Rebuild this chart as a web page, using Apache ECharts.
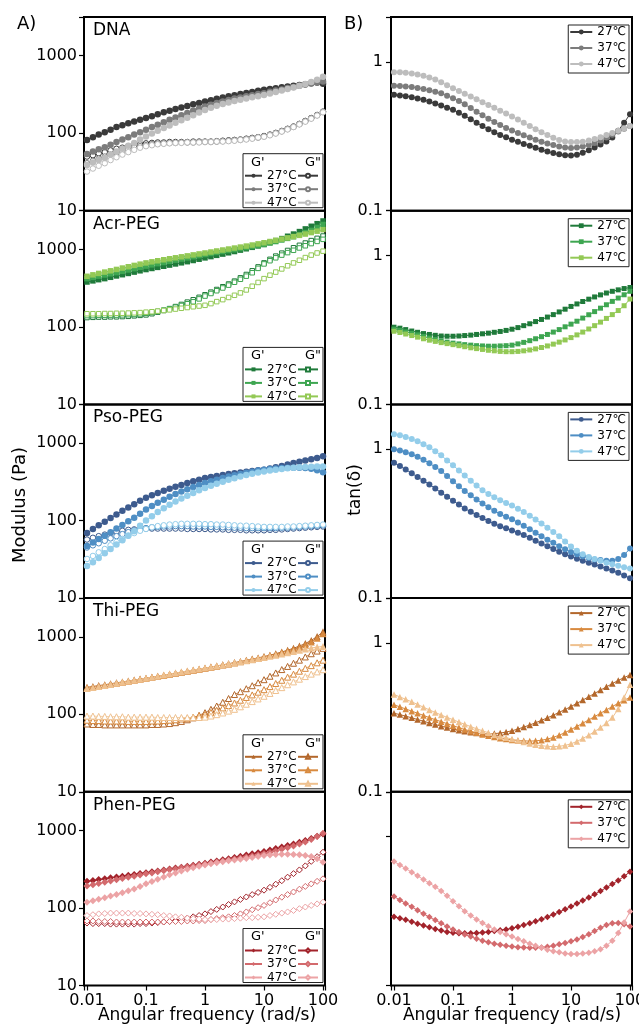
<!DOCTYPE html>
<html><head><meta charset="utf-8">
<script src="https://cdn.jsdelivr.net/npm/echarts@6/dist/echarts.min.js"></script>
<style>html,body{margin:0;padding:0;background:#fff}#c{width:639px;height:1030px}</style>
</head><body><div id="c"></div>
<script>
// ---------- data ----------
const freq = [0.01,0.0126,0.0158,0.02,0.0251,0.0316,0.0398,0.0501,0.0631,0.0794,
  0.1,0.126,0.158,0.2,0.251,0.316,0.398,0.501,0.631,0.794,
  1,1.26,1.58,2,2.51,3.16,3.98,5.01,6.31,7.94,
  10,12.6,15.8,20,25.1,31.6,39.8,50.1,63.1,79.4,100];
const panelNames = ['DNA','Acr-PEG','Pso-PEG','Thi-PEG','Phen-PEG'];
const tempsA = ['27°C','37°C','47°C'];
const tempsB = ['27℃','37℃','47℃'];
const xTickLabels = {'-2':'0.01','-1':'0.1','0':'1','1':'10','2':'100'};
const yTickLabelsA = {'1':'10','2':'100','3':'1000'};
const yTickLabelsB = {'-1':'0.1','0':'1'};

const dnaGp27 = [82,89,96,103,111,120,127,134,142,149,157,166,176,186,195,205,215,225,236,246,256,267,278,288,299,310,320,331,341,352,363,372,381,391,400,410,420,430,440,452,435];
const dnaGp37 = [54,58,62,66,71,77,83,89,96,103,111,120,129,139,149,160,171,183,196,208,221,233,245,257,269,280,290,300,310,320,329,342,355,368,382,396,410,424,438,451,464];
const dnaGp47 = [39,42,45,48,53,58,63,69,75,83,91,99,108,117,126,136,147,158,170,185,200,213,226,238,249,260,270,280,291,301,312,325,340,355,372,390,410,432,458,490,537];
const dnaGpp27 = [50,52,55,57,60,63,65,68,70,72,74,75,76,76,77,77,77,77,78,78,78,78,79,80,81,82,83,85,87,89,92,96,101,107,114,122,132,144,157,172,190];
const dnaGpp37 = [41,44,47,50,53,56,59,62,65,68,70,72,73,74,75,75,76,76,76,77,77,77,78,79,80,81,82,84,86,88,91,95,100,106,113,121,131,143,156,171,188];
const dnaGpp47 = [32,35,38,41,45,49,53,57,61,65,68,70,72,73,74,75,75,76,76,76,77,77,78,78,79,80,82,83,85,88,90,94,99,105,112,120,130,141,154,169,186];

const acrGp27 = [380,393,407,420,437,455,472,490,510,530,550,568,587,607,628,650,672,695,720,748,778,808,839,871,905,940,980,1020,1065,1110,1160,1230,1300,1380,1480,1580,1700,1840,1990,2150,2330];
const acrGp37 = [420,436,452,468,485,502,522,543,565,588,610,632,655,678,702,727,752,778,805,832,860,887,913,940,968,995,1025,1055,1090,1125,1160,1210,1265,1325,1390,1460,1550,1650,1760,1920,2100];
const acrGp47 = [450,470,490,510,530,552,575,598,622,646,670,692,714,736,758,780,803,826,850,875,900,927,955,983,1012,1042,1073,1105,1140,1180,1220,1265,1310,1360,1410,1465,1520,1580,1650,1720,1800];
const acrGpp27 = [132,133,134,134,135,135,136,137,139,141,143,148,155,163,172,183,195,209,224,241,260,281,304,330,358,390,430,475,530,595,670,745,820,895,970,1050,1130,1210,1300,1390,1490];
const acrGpp37 = [140,140,141,141,142,142,143,144,145,147,150,154,159,165,172,180,189,199,211,230,250,270,293,318,346,377,412,452,500,570,650,715,780,845,910,975,1045,1115,1190,1270,1350];
const acrGpp47 = [148,148,148,149,149,150,150,151,152,153,155,157,160,163,166,170,174,178,182,186,190,200,212,225,240,256,275,300,335,375,420,465,510,560,615,670,725,785,845,900,950];

const psoGp27 = [69,78,87,97,108,120,134,148,163,180,197,213,228,243,258,273,289,305,322,338,355,366,377,388,399,410,419,428,437,446,455,470,488,508,530,555,575,595,620,645,675];
const psoGp37 = [47,52,58,64,71,79,88,98,109,123,139,154,170,186,203,220,237,254,271,288,306,322,338,354,370,386,400,414,428,442,455,463,470,476,480,482,480,476,466,448,420];
const psoGp47 = [26,29,33,38,43,49,56,64,73,86,100,114,129,144,160,176,193,210,228,246,264,282,300,318,336,353,370,387,403,418,432,444,455,465,474,482,488,493,497,499,500];
const psoGpp27 = [57,60,63,66,69,72,74,76,77,78,79,79,79,79,79,79,79,78,78,78,78,77,77,77,76,76,76,75,75,75,75,76,76,77,78,79,80,81,82,83,84];
const psoGpp37 = [45,48,51,55,59,63,67,71,75,78,80,82,83,84,84,85,85,85,84,84,84,83,83,82,82,81,81,80,80,80,80,80,80,81,81,82,83,84,85,86,87];
const psoGpp47 = [32,35,39,43,48,53,58,64,69,74,78,82,85,87,89,90,91,91,91,91,90,90,89,89,88,87,86,86,85,84,83,83,83,83,84,84,85,86,87,88,89];

const thiGp27 = [223,229,235,241,248,255,262,269,277,285,293,302,311,320,330,340,350,360,371,382,394,407,421,435,450,465,481,498,516,535,556,580,607,638,672,712,760,820,900,1010,1160];
const thiGp37 = [218,224,231,238,245,252,259,267,275,283,291,300,309,318,328,338,348,359,370,381,392,405,418,432,446,461,477,494,512,531,551,573,598,626,657,692,735,790,860,960,1100];
const thiGp47 = [215,222,229,236,243,251,259,267,275,284,293,302,311,321,331,341,351,362,373,384,396,408,421,434,448,462,477,492,508,525,542,560,580,600,622,645,670,695,718,738,750];
const thiGpp27 = [75,74,74,73,73,73,73,73,73,73,73,74,74,75,76,78,81,85,90,97,105,116,128,143,160,180,196,214,234,256,280,310,342,378,415,456,500,550,605,655,710];
const thiGpp37 = [84,83,83,82,82,82,82,81,81,81,81,82,82,83,84,85,87,89,92,96,100,106,113,121,130,140,152,165,178,193,208,228,250,275,302,330,360,392,425,462,500];
const thiGpp47 = [95,95,94,94,93,93,93,92,92,92,92,92,91,91,91,91,91,91,91,91,92,95,99,104,110,116,125,135,146,158,171,186,203,221,241,262,284,307,330,353,376];

const phenGp27 = [221,227,233,239,245,251,257,264,271,278,285,293,301,310,319,328,337,347,357,368,379,392,405,419,434,450,466,482,500,518,536,560,585,612,640,670,705,745,790,845,903];
const phenGp37 = [192,199,207,215,223,232,240,249,258,267,276,284,293,302,311,320,330,339,349,359,370,381,392,404,416,429,442,456,470,485,500,522,546,572,600,632,668,710,765,835,920];
const phenGp47 = [119,124,130,136,143,150,158,167,176,190,205,220,236,252,268,284,300,316,331,346,360,372,384,395,406,416,426,436,450,463,476,484,490,493,494,492,488,478,462,432,390];
const phenGpp27 = [64,63,63,63,62,62,62,62,62,63,63,64,65,66,67,69,71,74,77,80,84,90,96,103,111,120,129,139,149,159,170,185,203,225,250,278,310,350,400,460,525];
const phenGpp37 = [68,68,67,67,67,66,66,66,66,66,66,66,66,66,67,67,67,68,68,69,69,71,73,75,77,80,84,89,95,101,108,117,127,138,149,161,175,190,205,221,238];
const phenGpp47 = [80,82,84,85,86,86,86,86,85,85,84,83,82,80,79,77,76,74,73,72,71,71,71,72,72,73,74,75,75,76,77,80,83,86,89,93,98,103,108,113,119];

const dnaTan27 = [0.60,0.595,0.588,0.579,0.568,0.556,0.541,0.525,0.509,0.492,0.476,0.455,0.434,0.412,0.39,0.37,0.352,0.337,0.323,0.311,0.30,0.29,0.281,0.273,0.265,0.257,0.25,0.244,0.239,0.236,0.235,0.238,0.245,0.255,0.266,0.278,0.292,0.31,0.345,0.39,0.445];
const dnaTan37 = [0.69,0.688,0.684,0.677,0.668,0.657,0.645,0.63,0.614,0.592,0.57,0.545,0.518,0.49,0.462,0.437,0.414,0.394,0.376,0.36,0.346,0.333,0.321,0.31,0.3,0.291,0.283,0.276,0.27,0.266,0.264,0.266,0.27,0.276,0.285,0.296,0.31,0.324,0.34,0.355,0.37];
const dnaTan47 = [0.85,0.85,0.845,0.836,0.823,0.806,0.785,0.76,0.728,0.696,0.665,0.638,0.611,0.585,0.56,0.536,0.513,0.491,0.47,0.45,0.43,0.41,0.39,0.371,0.353,0.337,0.322,0.309,0.299,0.292,0.289,0.289,0.291,0.296,0.303,0.312,0.322,0.333,0.345,0.357,0.37];
const acrTan27 = [0.33,0.325,0.318,0.311,0.305,0.299,0.295,0.291,0.288,0.287,0.287,0.288,0.29,0.292,0.295,0.298,0.301,0.305,0.309,0.314,0.32,0.328,0.338,0.348,0.36,0.372,0.386,0.401,0.418,0.436,0.455,0.473,0.491,0.509,0.527,0.544,0.56,0.575,0.588,0.6,0.61];
const acrTan37 = [0.32,0.314,0.307,0.3,0.293,0.286,0.279,0.273,0.267,0.262,0.258,0.255,0.252,0.25,0.248,0.247,0.246,0.246,0.247,0.248,0.25,0.255,0.261,0.268,0.276,0.285,0.295,0.306,0.318,0.332,0.346,0.362,0.38,0.4,0.42,0.443,0.467,0.492,0.518,0.545,0.575];
const acrTan47 = [0.31,0.304,0.297,0.29,0.283,0.276,0.27,0.265,0.26,0.256,0.252,0.248,0.244,0.24,0.237,0.234,0.231,0.229,0.227,0.226,0.226,0.227,0.229,0.232,0.236,0.241,0.247,0.254,0.262,0.271,0.281,0.293,0.306,0.321,0.338,0.357,0.378,0.401,0.427,0.46,0.51];
const psoTan27 = [0.81,0.77,0.73,0.69,0.65,0.615,0.58,0.545,0.51,0.48,0.45,0.425,0.4,0.38,0.362,0.345,0.33,0.316,0.304,0.294,0.285,0.275,0.265,0.254,0.243,0.233,0.223,0.214,0.205,0.197,0.19,0.184,0.178,0.173,0.168,0.163,0.158,0.153,0.148,0.142,0.136];
const psoTan37 = [1.0,0.98,0.955,0.925,0.89,0.85,0.805,0.76,0.715,0.66,0.61,0.565,0.525,0.49,0.46,0.432,0.408,0.386,0.367,0.352,0.338,0.322,0.306,0.29,0.275,0.26,0.247,0.235,0.223,0.213,0.204,0.197,0.191,0.186,0.182,0.18,0.178,0.178,0.183,0.195,0.215];
const psoTan47 = [1.26,1.24,1.21,1.17,1.13,1.08,1.03,0.97,0.91,0.84,0.78,0.72,0.665,0.615,0.57,0.53,0.5,0.475,0.455,0.435,0.418,0.398,0.378,0.357,0.337,0.317,0.297,0.278,0.26,0.24,0.222,0.208,0.197,0.189,0.183,0.178,0.173,0.169,0.165,0.161,0.158];
const thiTan27 = [0.337,0.33,0.322,0.314,0.306,0.298,0.29,0.283,0.276,0.27,0.264,0.259,0.255,0.251,0.248,0.246,0.245,0.246,0.248,0.252,0.257,0.264,0.272,0.281,0.291,0.302,0.314,0.327,0.342,0.357,0.374,0.393,0.413,0.435,0.458,0.482,0.507,0.533,0.56,0.585,0.61];
const thiTan37 = [0.384,0.372,0.36,0.348,0.337,0.326,0.315,0.305,0.296,0.287,0.278,0.27,0.262,0.255,0.249,0.243,0.238,0.233,0.229,0.226,0.223,0.221,0.22,0.219,0.22,0.222,0.226,0.232,0.24,0.25,0.262,0.275,0.289,0.304,0.32,0.337,0.355,0.374,0.393,0.412,0.43];
const thiTan47 = [0.45,0.434,0.418,0.402,0.386,0.37,0.355,0.341,0.328,0.316,0.305,0.294,0.284,0.274,0.265,0.257,0.249,0.242,0.236,0.231,0.226,0.221,0.216,0.211,0.207,0.204,0.202,0.201,0.202,0.205,0.21,0.218,0.228,0.24,0.254,0.27,0.29,0.315,0.36,0.43,0.524];
const phenTan27 = [0.29,0.283,0.276,0.268,0.26,0.253,0.246,0.24,0.234,0.229,0.226,0.224,0.224,0.224,0.225,0.227,0.229,0.232,0.235,0.238,0.242,0.248,0.255,0.262,0.27,0.279,0.289,0.3,0.312,0.325,0.339,0.355,0.372,0.39,0.41,0.431,0.455,0.48,0.507,0.542,0.58];
const phenTan37 = [0.396,0.375,0.356,0.338,0.32,0.303,0.288,0.275,0.262,0.249,0.238,0.229,0.22,0.213,0.206,0.2,0.195,0.191,0.188,0.185,0.183,0.181,0.18,0.179,0.179,0.18,0.182,0.185,0.189,0.193,0.198,0.204,0.212,0.221,0.232,0.244,0.255,0.262,0.263,0.258,0.249];
const phenTan47 = [0.68,0.645,0.61,0.577,0.545,0.515,0.487,0.46,0.432,0.4,0.368,0.34,0.315,0.295,0.278,0.263,0.25,0.238,0.229,0.221,0.213,0.205,0.198,0.191,0.185,0.179,0.174,0.17,0.167,0.164,0.163,0.163,0.164,0.166,0.17,0.175,0.185,0.2,0.225,0.265,0.314];

// ---------- tables built from the arrays ----------
const gpSets  = [[dnaGp27,dnaGp37,dnaGp47],[acrGp27,acrGp37,acrGp47],[psoGp27,psoGp37,psoGp47],[thiGp27,thiGp37,thiGp47],[phenGp27,phenGp37,phenGp47]];
const gppSets = [[dnaGpp27,dnaGpp37,dnaGpp47],[acrGpp27,acrGpp37,acrGpp47],[psoGpp27,psoGpp37,psoGpp47],[thiGpp27,thiGpp37,thiGpp47],[phenGpp27,phenGpp37,phenGpp47]];
const tanSets = [[dnaTan27,dnaTan37,dnaTan47],[acrTan27,acrTan37,acrTan47],[psoTan27,psoTan37,psoTan47],[thiTan27,thiTan37,thiTan47],[phenTan27,phenTan37,phenTan47]];

// ---------- styles ----------
const palette = [
  ['#3a3a3a','#7c7c7c','#bdbdbd'],
  ['#1f7a3a','#3ea651','#93c955'],
  ['#3d5b8e','#4e8ec4','#93cdea'],
  ['#b3672b','#d88a3f','#efc18f'],
  ['#a2232b','#d36a6d','#eca3a5']
];
const symbols = ['circle','rect','circle','triangle','diamond'];
const symSize = [6.5,5.5,6.5,7,7];
const FONT = 'DejaVu Sans';
const TOP0 = 17, H = 193.7, LX = 84, RX = 391, W = 241;

function powLabel(map){
  return function(v){
    const l = Math.log10(v), r = Math.round(l);
    if (Math.abs(l - r) < 1e-6 && map[r] !== undefined) return map[r];
    return '';
  };
}
const tickStyle = {length:5, lineStyle:{color:'#000', width:1.2}};
const labelBase = {fontFamily:FONT, fontSize:16, color:'#000'};

const grids=[], xAxes=[], yAxes=[], series=[], legends=[], gfx=[];

for (let r=0; r<5; r++){
  const top = TOP0 + r*H, bottom = top + H;
  const pal = palette[r];
  for (let side=0; side<2; side++){
    const gi = r*2 + side;
    grids.push({left: side? RX:LX, top: top, width: W, height: H, show:true,
      borderColor:'#000', borderWidth:2, backgroundColor:'rgba(0,0,0,0)', outerBoundsMode:'none', containLabel:false});
    xAxes.push({type:'log', logBase:10, gridIndex:gi, min:0.0089, max:108, splitNumber:4,
      axisLine:{show:false}, splitLine:{show:false},
      axisTick:Object.assign({show: r===4}, tickStyle),
      axisLabel:Object.assign({show: r===4, margin:7, formatter: powLabel(xTickLabels)}, labelBase)});
    if (side===0){
      yAxes.push({type:'log', logBase:10, gridIndex:gi, min:10, max:3162, splitNumber:2,
        axisLine:{show:false}, splitLine:{show:false},
        axisTick:Object.assign({show:true}, tickStyle),
        axisLabel:Object.assign({margin:7, formatter: powLabel(yTickLabelsA)}, labelBase)});
    } else {
      yAxes.push({type:'log', logBase:10, gridIndex:gi, min:0.1, max:2, splitNumber:1,
        axisLine:{show:false}, splitLine:{show:false},
        axisTick:Object.assign({show:true}, tickStyle),
        axisLabel:Object.assign({show: r<4, margin:8, formatter: powLabel(yTickLabelsB)}, labelBase)});
    }
  }
  const gL = r*2, gR = r*2+1;
  const namesGp=[], namesGpp=[], namesTan=[];
  for (let j=0;j<3;j++){
    const c = pal[j];
    const nGp = panelNames[r]+'|Gp|'+tempsA[j];
    const nGpp = panelNames[r]+'|Gpp|'+tempsA[j];
    const nTan = panelNames[r]+'|tan|'+tempsB[j];
    namesGp.push(nGp); namesGpp.push(nGpp); namesTan.push(nTan);
    series.push({type:'line', name:nGp, xAxisIndex:gL, yAxisIndex:gL,
      data: freq.map((w,i)=>[w, gpSets[r][j][i]]),
      symbol:symbols[r], symbolSize:symSize[r], showSymbol:true,
      itemStyle:{color:c}, lineStyle:{color:c, width:1}, emphasis:{disabled:true}, z:3});
    series.push({type:'line', name:nGpp, xAxisIndex:gL, yAxisIndex:gL,
      data: freq.map((w,i)=>[w, gppSets[r][j][i]]),
      symbol:symbols[r], symbolSize:symSize[r]-1, showSymbol:true,
      itemStyle:{color:'#ffffff', borderColor:c, borderWidth:1}, lineStyle:{color:c, width:0.8}, emphasis:{disabled:true}, z:2});
    series.push({type:'line', name:nTan, xAxisIndex:gR, yAxisIndex:gR,
      data: freq.map((w,i)=>[w, tanSets[r][j][i]]),
      symbol:symbols[r], symbolSize:symSize[r]-0.5, showSymbol:true,
      itemStyle:{color:c}, lineStyle:{color:c, width:1}, emphasis:{disabled:true}, z:3});
  }
  // left legend box
  const bx = LX + W - 2 - 80, by = bottom - 3 - 54;
  gfx.push({type:'rect', shape:{x:bx, y:by, width:80, height:54}, style:{fill:'rgba(0,0,0,0)', stroke:'#222', lineWidth:1}, z:20});
  gfx.push({type:'text', left:bx+8, top:by+2, style:{text:"G'", font:'13px "DejaVu Sans"', fill:'#000'}, z:20});
  gfx.push({type:'text', left:bx+62, top:by+2, style:{text:'G"', font:'13px "DejaVu Sans"', fill:'#000'}, z:20});
  legends.push({data:namesGp, left:bx+1, top:by+15.5, orient:'vertical', itemGap:0.5, itemWidth:17, itemHeight:5,
    padding:0, selectedMode:false, formatter:n=>n.split('|')[2],
    textStyle:{fontFamily:FONT, fontSize:12, lineHeight:13, color:'#000'}});
  legends.push({data:namesGpp, left:bx+54, top:by+15.5, orient:'vertical', itemGap:0.5, itemWidth:20, itemHeight:5,
    padding:0, selectedMode:false, formatter:()=>' ',
    textStyle:{fontFamily:FONT, fontSize:12, lineHeight:13, color:'#000'}});
  // right legend
  legends.push({data:namesTan, right:10, top:top+8, orient:'vertical', itemGap:4, itemWidth:22, itemHeight:6,
    padding:[1,3,3,1], borderColor:'#222', borderWidth:1, selectedMode:false, formatter:n=>n.split('|')[2],
    textStyle:{fontFamily:FONT, fontSize:12, lineHeight:12, color:'#000'}});
  // panel title
  gfx.push({type:'text', left:93, top:top+5, style:{text:panelNames[r], font:'17px "DejaVu Sans"', fill:'#000'}, z:20});
}

gfx.push({type:'text', left:17, top:15, style:{text:'A)', font:'18px "DejaVu Sans"', fill:'#000'}, z:20});
gfx.push({type:'text', left:344, top:15, style:{text:'B)', font:'18px "DejaVu Sans"', fill:'#000'}, z:20});
gfx.push({type:'text', x:20, y:505, rotation:Math.PI/2, style:{text:'Modulus (Pa)', font:'18px "DejaVu Sans"', fill:'#000', align:'center', verticalAlign:'middle'}, z:20});
gfx.push({type:'text', x:356, y:490, rotation:Math.PI/2, style:{text:'tan(δ)', font:'17px "DejaVu Sans"', fill:'#000', align:'center', verticalAlign:'middle'}, z:20});
gfx.push({type:'text', x:207, y:1016, style:{text:'Angular frequency (rad/s)', font:'17px "DejaVu Sans"', fill:'#000', align:'center', verticalAlign:'middle'}, z:20});
gfx.push({type:'text', x:512, y:1016, style:{text:'Angular frequency (rad/s)', font:'17px "DejaVu Sans"', fill:'#000', align:'center', verticalAlign:'middle'}, z:20});

const chart = echarts.init(document.getElementById('c'), null, {renderer:'canvas'});
chart.setOption({
  animation:false,
  backgroundColor:'#fff',
  grid:grids, xAxis:xAxes, yAxis:yAxes, series:series, legend:legends,
  graphic:{elements:gfx}
});
</script></body></html>
